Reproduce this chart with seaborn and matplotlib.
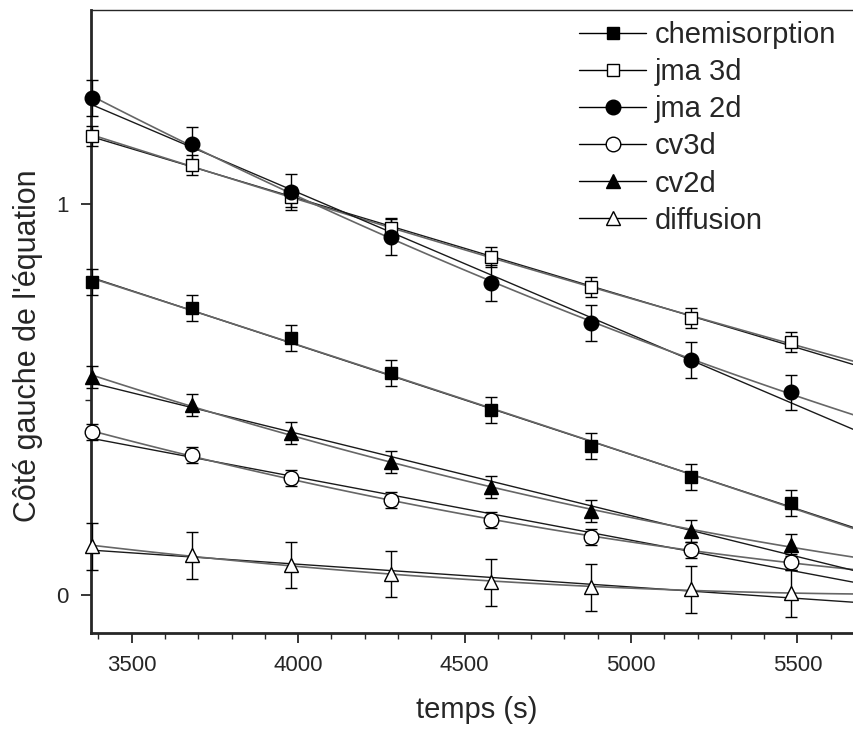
import numpy as np
import pandas as pd
import matplotlib
matplotlib.use("Agg")
import matplotlib.pyplot as plt
import seaborn as sns
from matplotlib.lines import Line2D
from matplotlib.ticker import MultipleLocator

# data
temps = [3380, 3680, 3980, 4280, 4580, 4880, 5180, 5480]
chemisorption = [0.800, 0.734, 0.657, 0.568, 0.473, 0.381, 0.302, 0.235]
jma3d = [1.174, 1.100, 1.018, 0.939, 0.864, 0.788, 0.708, 0.647]
jma2d = [1.271, 1.153, 1.031, 0.916, 0.798, 0.696, 0.601, 0.519]
cv3d = [0.417, 0.358, 0.299, 0.243, 0.192, 0.148, 0.115, 0.084]
cv2d = [0.558, 0.486, 0.414, 0.340, 0.276, 0.215, 0.164, 0.128]
diffusion = [0.125, 0.102, 0.077, 0.054, 0.033, 0.020, 0.015, 0.005]
err_chemisorption = [0.033] * 8
err_jma3d = [0.025] * 8
err_jma2d = [0.045] * 8
err_cv3d = [0.02] * 8
err_cv2d = [0.028] * 8
err_diffusion = [0.06] * 8

labels = ['chemisorption', 'jma 3d', 'jma 2d', 'cv3d', 'cv2d', 'diffusion']
values = [chemisorption, jma3d, jma2d, cv3d, cv2d, diffusion]
errors = [err_chemisorption, err_jma3d, err_jma2d, err_cv3d, err_cv2d, err_diffusion]
markers = ['s', 's', 'o', 'o', '^', '^']
faces = ['black', 'white', 'black', 'white', 'black', 'white']
msizes = [9, 9, 10.5, 10.5, 10.5, 10.5]

df = pd.concat([pd.DataFrame({'temps': temps, 'val': v, 'err': e, 'serie': l})
                for l, v, e in zip(labels, values, errors)])

sns.set_style("ticks")
plt.rcParams['font.family'] = ['Liberation Sans', 'DejaVu Sans']

fig = plt.figure(figsize=(8.54, 7.32), dpi=100)
ax = fig.add_axes([0.1066, 0.1352, 0.8934, 0.851])
ax.set_xlim(3378, 5670)
ax.set_ylim(-0.097, 1.496)

for lab, mk, fc, ms in zip(labels, markers, faces, msizes):
    sub = df[df.serie == lab]
    sns.regplot(data=sub, x='temps', y='val', ax=ax, scatter=False, ci=None,
                truncate=False, line_kws={'color': '#1a1a1a', 'lw': 1.0})
    sns.regplot(data=sub, x='temps', y='val', ax=ax, scatter=False, ci=None,
                order=2, truncate=False, line_kws={'color': '#666666', 'lw': 1.2})
    ax.errorbar(sub.temps, sub.val, yerr=sub.err, fmt=mk, ms=ms, mfc=fc, mec='black',
                mew=1.0, ecolor='black', elinewidth=1.0, capsize=4, capthick=1.0,
                zorder=5, clip_on=False)

ax.set_xlim(3378, 5670)
ax.set_ylim(-0.097, 1.496)

ax.xaxis.set_major_locator(MultipleLocator(500))
ax.xaxis.set_minor_locator(MultipleLocator(100))
ax.yaxis.set_major_locator(MultipleLocator(1))
ax.yaxis.set_minor_locator(MultipleLocator(0.5))
ax.tick_params(which='major', direction='out', length=7, width=1.3, labelsize=16, pad=9)
ax.tick_params(which='minor', direction='out', length=4, width=1.0)
ax.spines['left'].set_linewidth(2)
ax.spines['bottom'].set_linewidth(2)
ax.spines['top'].set_linewidth(1)
ax.spines['right'].set_visible(False)

ax.set_xlabel('temps (s)', fontsize=21)
ax.set_ylabel("Côté gauche de l'équation", fontsize=22)
ax.xaxis.set_label_coords(0.505, -0.101)
ax.yaxis.set_label_coords(-0.0625, 0.462)

handles = [Line2D([], [], color='black', lw=1.0, marker=mk, ms=ms, mfc=fc, mec='black')
           for mk, fc, ms in zip(markers, faces, msizes)]
ax.legend(handles, labels, loc='upper right', bbox_to_anchor=(1.0, 1.01), frameon=False,
          fontsize=21, handlelength=2.3, handletextpad=0.3, labelspacing=0.31,
          borderaxespad=0.2)

fig.savefig('out.png', dpi=100)
